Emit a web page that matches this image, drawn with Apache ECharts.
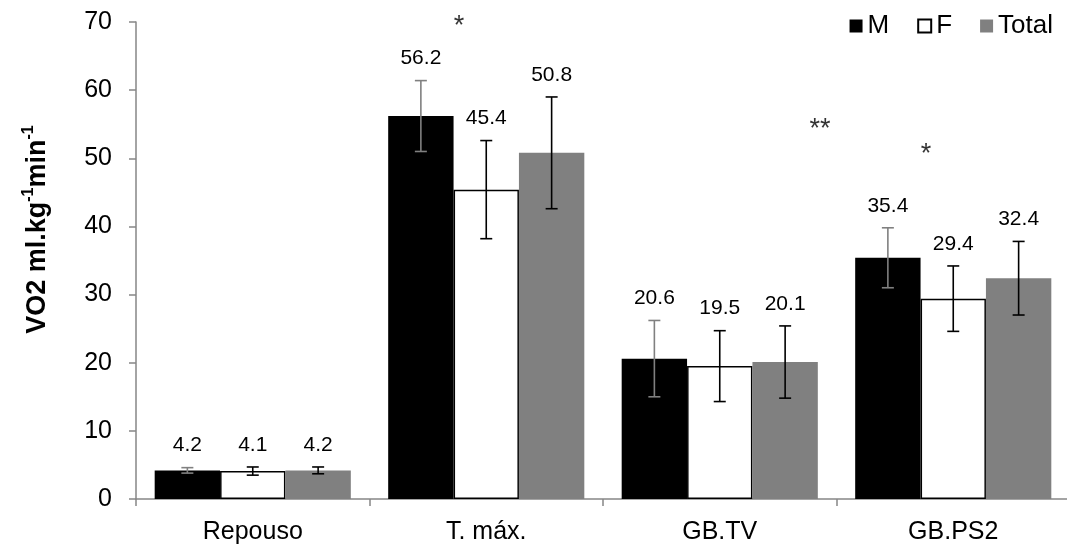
<!DOCTYPE html>
<html>
<head>
<meta charset="utf-8">
<script src="https://cdn.jsdelivr.net/npm/echarts@6/dist/echarts.min.js"></script>
<style>
html,body{margin:0;padding:0;background:#fff;}
#chart{width:1067px;height:548px;}
</style>
</head>
<body>
<div id="chart"></div>
<script>
const categories = ['Repouso', 'T. máx.', 'GB.TV', 'GB.PS2'];
const seriesNames = ['M', 'F', 'Total'];
const valuesM = [4.2, 56.2, 20.6, 35.4];
const valuesF = [4.1, 45.4, 19.5, 29.4];
const valuesTotal = [4.2, 50.8, 20.1, 32.4];
const errM = [0.4, 5.2, 5.6, 4.4];
const errF = [0.6, 7.2, 5.2, 4.8];
const errTotal = [0.5, 8.2, 5.3, 5.4];
const yTicks = [0, 10, 20, 30, 40, 50, 60, 70];
const starText = ['*', '**', '*'];
const starX = [1.383, 2.929, 3.383];
const starY = [69.4, 54.2, 50.5];

const FONT = '"Liberation Sans", Arial, sans-serif';
const CAT_GAP = 0.16;

const chart = echarts.init(document.getElementById('chart'), null, {renderer: 'canvas'});

function errSeries(idx, vals, errs, color) {
  return {
    type: 'custom',
    name: seriesNames[idx] + '_err',
    xAxisIndex: 0,
    yAxisIndex: 0,
    z: 10,
    encode: {x: 0, y: 1},
    data: vals.map((v, i) => [i, v, errs[i]]),
    renderItem: function (params, api) {
      const i = api.value(0), v = api.value(1), e = api.value(2);
      const c = api.coord([i, v]);
      const band = api.size([1, 0])[0];
      const bw = band * (1 - CAT_GAP) / 3;
      const x = c[0] + (idx - 1) * bw;
      const top = api.coord([i, v + e])[1];
      const bot = api.coord([i, v - e])[1];
      const cap = 6;
      const ls = {stroke: color, lineWidth: 1.6};
      return {
        type: 'group',
        children: [
          {type: 'line', shape: {x1: x, y1: top, x2: x, y2: bot}, style: ls},
          {type: 'line', shape: {x1: x - cap, y1: top, x2: x + cap, y2: top}, style: ls},
          {type: 'line', shape: {x1: x - cap, y1: bot, x2: x + cap, y2: bot}, style: ls},
          {type: 'text', style: {text: v.toFixed(1), x: x, y: top - 22, align: 'center', verticalAlign: 'middle',
            fontSize: 21, fontFamily: FONT, fill: '#000'}}
        ]
      };
    }
  };
}

const option = {
  animation: false,
  backgroundColor: '#fff',
  textStyle: {fontFamily: FONT},
  grid: {left: 136, top: 22, bottom: 49, width: 934, containLabel: false, outerBoundsMode: 'none'},
  legend: {
    data: seriesNames,
    right: 9, top: 8,
    itemWidth: 13, itemHeight: 13,
    itemGap: 28,
    icon: 'rect',
    textStyle: {fontSize: 26, fontFamily: FONT, color: '#000'}
  },
  xAxis: [
    {
      type: 'category',
      data: categories,
      axisLine: {lineStyle: {color: '#868686', width: 1.5}},
      axisTick: {show: true, length: 7, interval: 0, lineStyle: {color: '#868686', width: 1.5}},
      axisLabel: {fontSize: 25, color: '#000', margin: 21, fontFamily: FONT, interval: 0},
      splitLine: {show: false}
    },
    {type: 'value', min: 0, max: 4, show: false}
  ],
  yAxis: {
    type: 'value',
    min: yTicks[0], max: yTicks[yTicks.length - 1], interval: 10,
    axisLine: {show: true, lineStyle: {color: '#868686', width: 1.5}},
    axisTick: {show: true, length: 7, lineStyle: {color: '#868686', width: 1.5}},
    axisLabel: {fontSize: 25, color: '#000', margin: 24, fontFamily: FONT},
    splitLine: {show: false},
    name: '{a|VO2 ml.kg}{s|-1}{a|min}{s|-1}',
    nameLocation: 'middle',
    nameRotate: 90,
    nameGap: 82,
    nameTextStyle: {
      padding: [0, 0, 0, 62],
      rich: {
        a: {fontSize: 27, fontWeight: 'bold', color: '#000', fontFamily: FONT, lineHeight: 33},
        s: {fontSize: 16, fontWeight: 'bold', color: '#000', fontFamily: FONT, lineHeight: 16, verticalAlign: 'top'}
      }
    }
  },
  series: [
    {type: 'bar', name: 'M', data: valuesM, barGap: '0%', barCategoryGap: (CAT_GAP * 100) + '%',
      itemStyle: {color: '#000000'}},
    {type: 'bar', name: 'F', data: valuesF, barGap: '0%', barCategoryGap: (CAT_GAP * 100) + '%',
      itemStyle: {color: '#ffffff', borderColor: '#000000', borderWidth: 1.5}},
    {type: 'bar', name: 'Total', data: valuesTotal, barGap: '0%', barCategoryGap: (CAT_GAP * 100) + '%',
      itemStyle: {color: '#808080'}},
    errSeries(0, valuesM, errM, '#808080'),
    errSeries(1, valuesF, errF, '#000000'),
    errSeries(2, valuesTotal, errTotal, '#000000'),
    {
      type: 'scatter', name: 'stars', xAxisIndex: 1, yAxisIndex: 0,
      symbol: 'circle', symbolSize: 1, itemStyle: {color: 'rgba(0,0,0,0)'},
      data: starX.map((x, i) => ({value: [x, starY[i]], name: starText[i]})),
      label: {show: true, position: 'inside', formatter: p => p.name, fontSize: 27, color: '#000', fontFamily: FONT},
      z: 11
    }
  ]
};
chart.setOption(option);
</script>
</body>
</html>
